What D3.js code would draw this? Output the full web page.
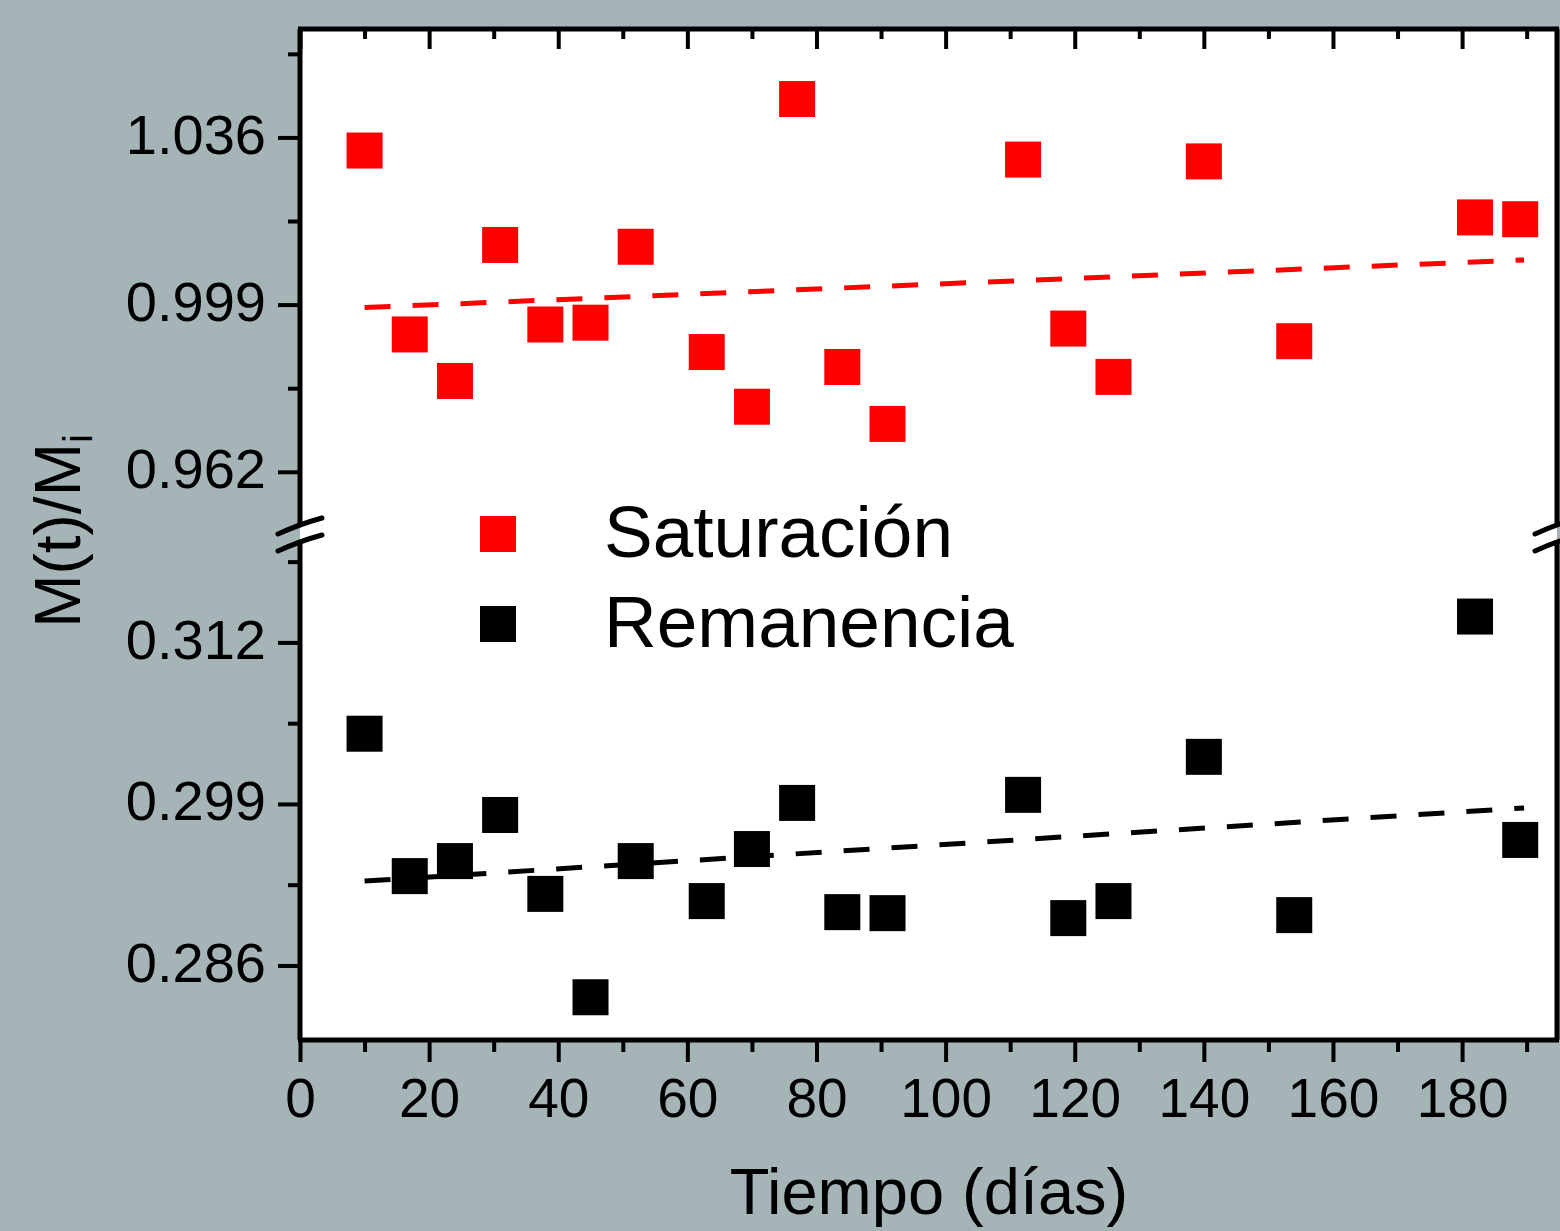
<!DOCTYPE html>
<html>
<head>
<meta charset="utf-8">
<script src="https://cdn.jsdelivr.net/npm/d3@7"></script>
<style>
html,body{margin:0;padding:0;background:#a4b4b7;}
svg{display:block;}
text{font-family:Arial,"Liberation Sans",sans-serif;fill:#000;}
</style>
</head>
<body>
<svg id="chart" width="1560" height="1231"></svg>
<script>
// ---- data ----
const days = [10,17,24,31,38,45,52,63,70,77,84,91,112,119,126,140,154,182,189];
const saturacion = [1.0331,0.9924,0.9821,1.0122,0.9946,0.9950,1.0118,0.9885,0.9764,1.0445,0.9852,0.9726,1.0311,0.9937,0.9830,1.0307,0.9909,1.0183,1.0179];
const remanencia = [0.30465,0.29319,0.29440,0.29811,0.29176,0.28344,0.29440,0.29118,0.29537,0.29908,0.29029,0.29021,0.29973,0.28981,0.29118,0.30279,0.29005,0.31408,0.29610];
const fitX = [10,189.6];
const fitSat = [0.99834,1.00889];
const fitRem = [0.29279,0.29868];
const xTicks = [0,20,40,60,80,100,120,140,160,180];
const xMinor = [10,30,50,70,90,110,130,150,170,190];
const yTopTicks = [0.962,0.999,1.036];
const yTopMinor = [0.9805,1.0175,1.0545];
const yBotTicks = [0.286,0.299,0.312];
const yBotMinor = [0.2925,0.3055,0.3185];
const legendNames = ["Saturación","Remanencia"];
const colors = ["#ff0000","#000000"];

const svg = d3.select("#chart");
const L = 300, R = 1557, T = 29, B = 1040;

const x = d3.scaleLinear().domain([0,194.7]).range([L,R]);
const yTop = d3.scaleLinear().domain([0.95,1.06]).range([526,T]);
const yBot = d3.scaleLinear().domain([0.28,0.32]).range([B,543]);

// plot background
svg.append("rect").attr("x",L).attr("y",T).attr("width",R-L).attr("height",B-T).attr("fill","#fff");

// fit lines
function fitLine(ys, yScale, col){
  svg.append("line")
    .attr("x1",x(fitX[0])).attr("y1",yScale(ys[0]))
    .attr("x2",x(fitX[1])).attr("y2",yScale(ys[1]))
    .attr("stroke",col).attr("stroke-width",5)
    .attr("stroke-dasharray","26,22");
}
fitLine(fitSat, yTop, colors[0]);
fitLine(fitRem, yBot, colors[1]);

// points
const S = 36;
svg.append("g").selectAll("rect").data(days.map((d,i)=>[d,saturacion[i]])).join("rect")
  .attr("x",d=>x(d[0])-S/2).attr("y",d=>yTop(d[1])-S/2)
  .attr("width",S).attr("height",S).attr("fill",colors[0]);
svg.append("g").selectAll("rect").data(days.map((d,i)=>[d,remanencia[i]])).join("rect")
  .attr("x",d=>x(d[0])-S/2).attr("y",d=>yBot(d[1])-S/2)
  .attr("width",S).attr("height",S).attr("fill",colors[1]);

// axes
function styleAxis(g){
  g.select(".domain").remove();
  g.selectAll(".tick line").attr("stroke","#000").attr("stroke-width",4);
}
// bottom
const gxB = svg.append("g").attr("transform",`translate(0,${B})`)
  .call(d3.axisBottom(x).tickValues(xTicks).tickSize(22).tickFormat(d3.format("d")));
styleAxis(gxB);
gxB.selectAll(".tick text").attr("y",77).attr("dy",0).attr("font-size",55).attr("fill","#000");
const gxBm = svg.append("g").attr("transform",`translate(0,${B})`)
  .call(d3.axisBottom(x).tickValues(xMinor).tickSize(12).tickFormat(""));
styleAxis(gxBm);
// top (inward)
const gxT = svg.append("g").attr("transform",`translate(0,${T})`)
  .call(d3.axisBottom(x).tickValues(xTicks).tickSize(20).tickFormat(""));
styleAxis(gxT);
const gxTm = svg.append("g").attr("transform",`translate(0,${T})`)
  .call(d3.axisBottom(x).tickValues(xMinor.filter(v=>v<194)).tickSize(10).tickFormat(""));
styleAxis(gxTm);
// left
function leftAxis(scale, major, minor){
  const g = svg.append("g").attr("transform",`translate(${L},0)`)
    .call(d3.axisLeft(scale).tickValues(major).tickSize(22).tickFormat(d3.format(".3f")));
  styleAxis(g);
  g.selectAll(".tick text").attr("x",-34).attr("dy","0.28em").attr("font-size",56).attr("fill","#000");
  const gm = svg.append("g").attr("transform",`translate(${L},0)`)
    .call(d3.axisLeft(scale).tickValues(minor).tickSize(12).tickFormat(""));
  styleAxis(gm);
}
leftAxis(yTop, yTopTicks, yTopMinor);
leftAxis(yBot, yBotTicks, yBotMinor);

// frame with breaks
const fr = svg.append("g").attr("stroke","#000").attr("stroke-width",5).attr("fill","none");
const yb1 = yTop.range()[0], yb2 = yBot.range()[1];
fr.append("line").attr("x1",L-2).attr("x2",R+2).attr("y1",T).attr("y2",T);
fr.append("line").attr("x1",L-2).attr("x2",R+2).attr("y1",B).attr("y2",B);
[L,R].forEach(xx=>{
  fr.append("line").attr("x1",xx).attr("x2",xx).attr("y1",T).attr("y2",yb1);
  fr.append("line").attr("x1",xx).attr("x2",xx).attr("y1",yb2).attr("y2",B);
  [yb1,yb2].forEach(yy=>{
    fr.append("path").attr("d",`M${xx-22},${yy+8} Q${xx},${yy-2} ${xx+22},${yy-8}`)
      .attr("stroke-linecap","round");
  });
});

// legend
const lg = svg.append("g");
legendNames.forEach((name,i)=>{
  const cy = 534 + i*90;
  lg.append("rect").attr("x",498-S/2).attr("y",cy-S/2).attr("width",S).attr("height",S).attr("fill",colors[i]);
  lg.append("text").attr("x",604).attr("y",cy+23).attr("font-size",73).text(name);
});

// axis titles
svg.append("text").attr("x",929).attr("y",1214).attr("text-anchor","middle")
  .attr("font-size",65).text("Tiempo (días)");
const yl = svg.append("text").attr("transform","translate(80,531) rotate(-90)")
  .attr("text-anchor","middle").attr("font-size",64);
yl.append("tspan").text("M(t)/M");
yl.append("tspan").attr("font-size",40).attr("dy",12).text("i");
</script>
</body>
</html>
